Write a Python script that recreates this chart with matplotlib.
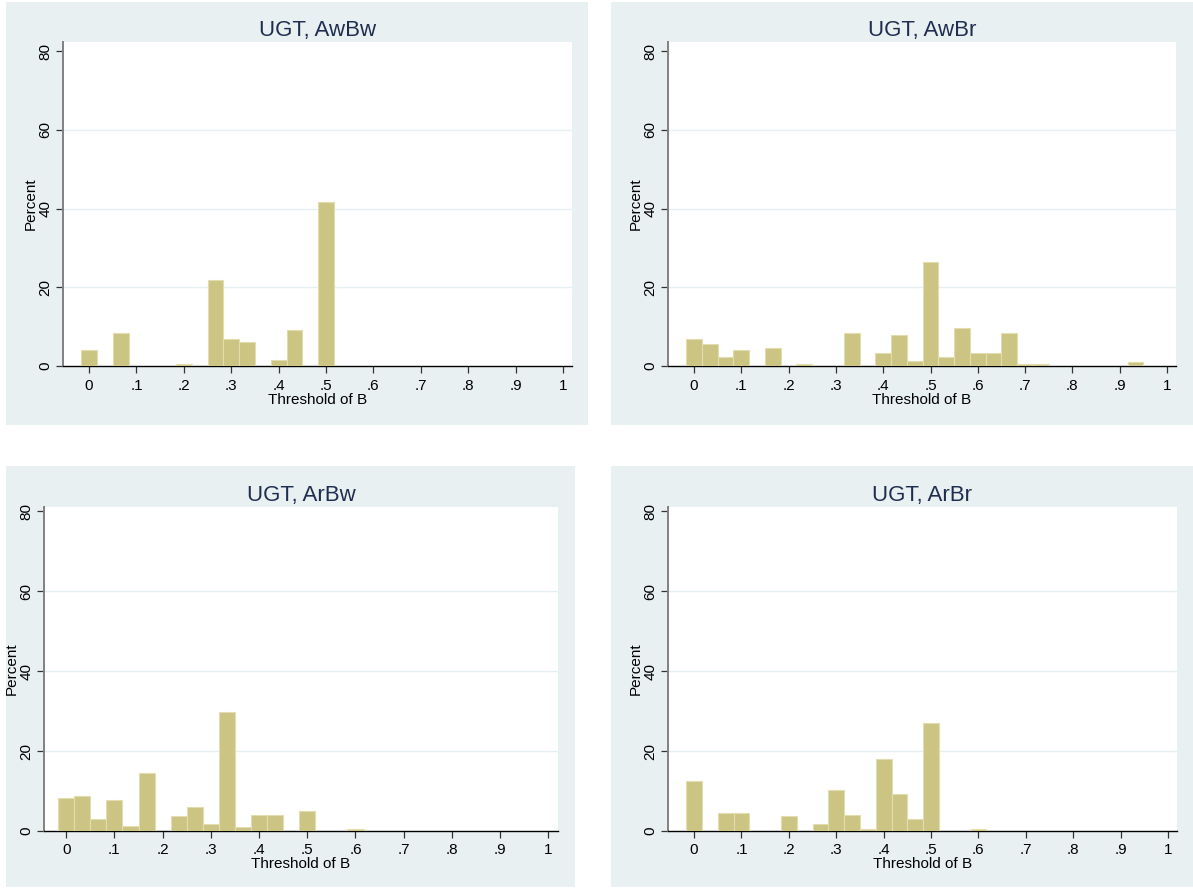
import matplotlib
matplotlib.use("Agg")
import matplotlib.pyplot as plt
from matplotlib.patches import Rectangle
import numpy as np

plt.rcParams['font.family'] = ['Liberation Sans', 'DejaVu Sans']

# Histogram bins: 30 bins of width 1/30 centred on k/30
n_bins = 30
bin_width = 1.0 / 30

titles = ["UGT, AwBw", "UGT, AwBr", "UGT, ArBw", "UGT, ArBr"]

pct_awbw = [4.1, 0, 8.3, 0, 0, 0, 0.5, 0, 21.8, 6.8,
            6.0, 0, 1.4, 9.2, 0, 41.7, 0, 0, 0, 0,
            0, 0, 0, 0, 0, 0, 0, 0, 0, 0]
pct_awbr = [6.9, 5.6, 2.3, 4.1, 0, 4.6, 0, 0.4, 0, 0,
            8.3, 0, 3.2, 7.8, 1.3, 26.4, 2.3, 9.6, 3.2, 3.2,
            8.3, 0.4, 0.4, 0, 0, 0, 0, 0, 1.0, 0]
pct_arbw = [8.3, 8.7, 3.1, 7.8, 1.3, 14.4, 0, 3.7, 6.0, 1.7,
            29.7, 0.9, 4.1, 4.1, 0, 5.0, 0, 0, 0.4, 0,
            0, 0, 0, 0, 0, 0, 0, 0, 0, 0]
pct_arbr = [12.6, 0, 4.6, 4.6, 0, 0, 3.7, 0, 1.8, 10.2,
            4.1, 0.4, 18.1, 9.3, 3.1, 26.9, 0, 0, 0.4, 0,
            0, 0, 0, 0, 0, 0, 0, 0, 0, 0]
panels = [pct_awbw, pct_awbr, pct_arbw, pct_arbr]

x_ticks = [0, 0.1, 0.2, 0.3, 0.4, 0.5, 0.6, 0.7, 0.8, 0.9, 1.0]
x_ticklabels = ["0", ".1", ".2", ".3", ".4", ".5", ".6", ".7", ".8", ".9", "1"]
y_ticks = [0, 20, 40, 60, 80]
x_title = "Threshold of B"
y_title = "Percent"

W, H = 1193, 890
bg_color = "#e8f0f2"
bar_fill = "#ccc482"
bar_edge = "#e2ddb0"
title_color = "#1f2d4e"

fig = plt.figure(figsize=(W / 100, H / 100), dpi=100, facecolor="white")

# graph regions (pixel boxes: x0, y0, x1, y1)
regions = [(6, 2, 588, 425), (611, 2, 1193, 425),
           (6, 466, 575, 887), (611, 466, 1193, 887)]
# plot regions (pixel boxes: left, top, right, bottom)
plots = [(63, 42, 572, 366), (668, 42, 1176, 366),
         (44, 507, 558, 831), (668, 507, 1177, 831)]
xlims = [(-0.055, 1.019), (-0.055, 1.019), (-0.046, 1.02), (-0.055, 1.019)]
ytops = [82.3, 82.3, 81.0, 81.0]

for (x0, y0, x1, y1) in regions:
    fig.patches.append(Rectangle((x0 / W, 1 - y1 / H), (x1 - x0) / W, (y1 - y0) / H,
                                 transform=fig.transFigure, facecolor=bg_color,
                                 edgecolor="none", zorder=-5))

centers = np.arange(n_bins) * bin_width

for i, (vals, title) in enumerate(zip(panels, titles)):
    l, t, r, b = plots[i]
    ax = fig.add_axes([l / W, 1 - b / H, (r - l) / W, (b - t) / H])
    ax.set_facecolor("white")
    vals = np.asarray(vals, dtype=float)
    mask = vals > 0
    ax.bar(centers[mask], vals[mask], width=bin_width, align="center",
           color=bar_fill, edgecolor=bar_edge, linewidth=0.8, zorder=3)
    ax.set_xlim(*xlims[i])
    ax.set_ylim(0, ytops[i])
    for g in (20, 40, 60):
        ax.axhline(g, color="#e6eff1", linewidth=1.0, zorder=1)
    ax.set_xticks(x_ticks)
    ax.set_xticklabels(x_ticklabels)
    ax.set_yticks(y_ticks)
    ax.set_yticklabels([str(v) for v in y_ticks], rotation=90, va="center")
    ax.tick_params(axis="both", labelsize=11, length=5, width=0.9,
                   color="#333333", labelcolor="black")
    ax.tick_params(axis="x", pad=4)
    ax.tick_params(axis="y", pad=2.5)
    for s in ("top", "right"):
        ax.spines[s].set_visible(False)
    ax.spines["left"].set_color("#808080")
    ax.spines["left"].set_linewidth(1.4)
    ax.spines["bottom"].set_color("black")
    ax.spines["bottom"].set_linewidth(1.0)
    ax.set_xlabel(x_title, fontsize=11, labelpad=0)
    ax.set_ylabel(y_title, fontsize=11, labelpad=0.5)
    ax.set_title(title, fontsize=16, color=title_color, pad=4)

fig.savefig("out.png", dpi=100, facecolor="white")
